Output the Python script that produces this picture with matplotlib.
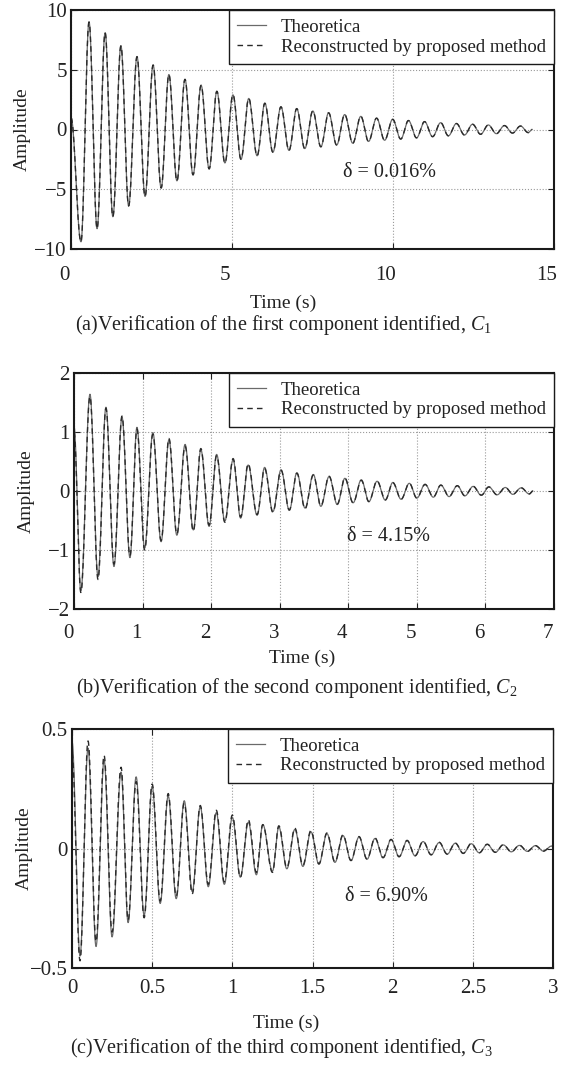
import numpy as np
import matplotlib
matplotlib.use("Agg")
import matplotlib.pyplot as plt
from matplotlib.transforms import ScaledTranslation

plt.rcParams['font.family'] = ['Liberation Serif', 'DejaVu Serif']
plt.rcParams['mathtext.fontset'] = 'custom'
plt.rcParams['mathtext.rm'] = 'Liberation Serif'
plt.rcParams['mathtext.it'] = 'Liberation Serif:italic'

# extrema of each component (time in s, amplitude)
c1_t = [0.00, 0.31, 0.56, 0.81, 1.06, 1.30, 1.55, 1.79, 2.05, 2.30, 2.55, 2.80, 3.04, 3.29, 3.54,
        3.79, 4.04, 4.29, 4.53, 4.78, 5.03, 5.28, 5.52, 5.78, 6.02, 6.27, 6.52, 6.77, 7.01, 7.26,
        7.51, 7.76, 8.00, 8.25, 8.50, 8.75, 9.00, 9.24, 9.49, 9.74, 9.99, 10.24, 10.48, 10.73,
        10.98, 11.23, 11.48, 11.72, 11.97, 12.22, 12.47, 12.72, 12.96, 13.21, 13.46, 13.71,
        13.96, 14.20, 14.32]
c1_theo = [1.0, -9.4, 9.0, -8.3, 8.1, -7.3, 7.0, -6.4, 6.1, -5.6, 5.4, -4.9, 4.6, -4.3, 4.2,
           -3.8, 3.7, -3.3, 3.2, -2.8, 2.9, -2.5, 2.6, -2.2, 2.2, -1.9, 1.9, -1.75, 1.75, -1.6,
           1.55, -1.45, 1.4, -1.3, 1.25, -1.15, 1.1, -1.0, 0.95, -0.9, 0.85, -0.8, 0.75, -0.7,
           0.66, -0.6, 0.57, -0.53, 0.5, -0.46, 0.44, -0.4, 0.38, -0.35, 0.33, -0.3,
           0.29, -0.26, 0.0]
c1_rec = list(c1_theo)

c2_t = [0.00, 0.10, 0.233, 0.35, 0.466, 0.583, 0.70, 0.816, 0.918, 1.03, 1.15, 1.27, 1.385,
        1.50, 1.62, 1.74, 1.85, 1.97, 2.08, 2.20, 2.32, 2.43, 2.54, 2.67, 2.78, 2.90, 3.02,
        3.14, 3.25, 3.37, 3.49, 3.60, 3.72, 3.84, 3.95, 4.07, 4.19, 4.30, 4.42, 4.54, 4.65,
        4.77, 4.89, 5.00, 5.12, 5.24, 5.35, 5.47, 5.59, 5.70, 5.82, 5.94, 6.05, 6.17, 6.29,
        6.40, 6.52, 6.64, 6.69]
c2_theo = [1.1, -1.69, 1.64, -1.45, 1.42, -1.28, 1.25, -1.13, 1.08, -0.97, 0.99, -0.86, 0.87,
           -0.75, 0.79, -0.66, 0.70, -0.60, 0.62, -0.51, 0.53, -0.46, 0.44, -0.41, 0.40, -0.35,
           0.36, -0.33, 0.31, -0.29, 0.28, -0.26, 0.245, -0.23, 0.215, -0.20, 0.19, -0.18,
           0.165, -0.155, 0.145, -0.14, 0.13, -0.12, 0.115, -0.105, 0.10, -0.095, 0.09,
           -0.083, 0.078, -0.073, 0.069, -0.065, 0.06, -0.057, 0.053, -0.05, 0.0]
c2_rec = [1.0, -1.72, 1.60, -1.50, 1.40, -1.24, 1.27, -1.10, 1.05, -1.00, 0.96, -0.84, 0.89,
          -0.73, 0.76, -0.68, 0.72, -0.58, 0.60, -0.53, 0.55, -0.44, 0.46, -0.40, 0.38, -0.36,
          0.35, -0.32, 0.30, -0.30, 0.27, -0.25, 0.25, -0.22, 0.22, -0.20, 0.18, -0.18,
          0.17, -0.15, 0.14, -0.14, 0.13, -0.12, 0.11, -0.10, 0.10, -0.09, 0.09,
          -0.08, 0.08, -0.07, 0.07, -0.065, 0.06, -0.055, 0.055, -0.05, 0.0]

c3_t = [0.00, 0.05, 0.10, 0.15, 0.20, 0.25, 0.306, 0.35, 0.40, 0.45, 0.50, 0.55, 0.60, 0.65,
        0.70, 0.75, 0.80, 0.85, 0.90, 0.95, 1.00, 1.05, 1.10, 1.15, 1.19, 1.25, 1.29, 1.34,
        1.39, 1.44, 1.49, 1.54, 1.59, 1.64, 1.69, 1.74, 1.79, 1.84, 1.89, 1.94, 1.99, 2.04,
        2.09, 2.14, 2.19, 2.24, 2.29, 2.34, 2.39, 2.44, 2.49, 2.54, 2.59, 2.64, 2.69, 2.74,
        2.79, 2.84, 2.89, 2.94, 2.99]
c3_theo = [0.45, -0.45, 0.42, -0.41, 0.37, -0.37, 0.32, -0.31, 0.30, -0.28, 0.26, -0.23, 0.22,
           -0.21, 0.20, -0.18, 0.175, -0.16, 0.15, -0.15, 0.13, -0.12, 0.11, -0.11, 0.10,
           -0.095, 0.09, -0.085, 0.08, -0.075, 0.07, -0.066, 0.062, -0.058, 0.054, -0.051,
           0.048, -0.045, 0.042, -0.039, 0.037, -0.035, 0.033, -0.031, 0.029, -0.027, 0.025,
           -0.024, 0.022, -0.021, 0.02, -0.018, 0.017, -0.016, 0.015, -0.014, 0.013, -0.012,
           0.012, -0.011, 0.01]
c3_rec = [0.40, -0.47, 0.45, -0.39, 0.39, -0.35, 0.34, -0.30, 0.28, -0.29, 0.27, -0.22, 0.23,
          -0.20, 0.19, -0.19, 0.18, -0.15, 0.16, -0.14, 0.14, -0.12, 0.12, -0.10, 0.10,
          -0.10, 0.095, -0.08, 0.085, -0.07, 0.075, -0.064, 0.065, -0.056, 0.057, -0.05,
          0.05, -0.044, 0.044, -0.038, 0.038, -0.034, 0.034, -0.03, 0.03, -0.026, 0.026,
          -0.023, 0.023, -0.02, 0.021, -0.018, 0.018, -0.016, 0.016, -0.014, 0.014, -0.012,
          0.012, -0.011, 0.01]

errors = ['\u03b4 = 0.016%', '\u03b4 = 4.15%', '\u03b4 = 6.90%']
captions = ['(a)Verification of the first component identified, $C_1$',
            '(b)Verification of the second component identified, $C_2$',
            '(c)Verification of the third component identified, $C_3$']
xticks = [[0, 5, 10, 15], [0, 1, 2, 3, 4, 5, 6, 7], [0, 0.5, 1, 1.5, 2, 2.5, 3]]
yticks = [[-10, -5, 0, 5, 10], [-2, -1, 0, 1, 2], [-0.5, 0, 0.5]]


def smooth(t, y, n=20):
    # join successive extrema with half-cosine arcs
    xs, ys = [], []
    for i in range(len(t) - 1):
        s = np.linspace(0, 1, n, endpoint=False)
        xs.append(t[i] + (t[i + 1] - t[i]) * s)
        ys.append(y[i] + (y[i + 1] - y[i]) * (1 - np.cos(np.pi * s)) / 2)
    xs.append([t[-1]])
    ys.append([y[-1]])
    return np.concatenate(xs), np.concatenate(ys)


W, H = 562, 1065
fig = plt.figure(figsize=(W / 100, H / 100), dpi=100)

# axes boxes in pixels: left, top, right, bottom
boxes = [(71, 10, 554, 249), (74, 373, 554, 609), (72, 729, 553, 968)]
series = [(c1_t, c1_theo, c1_rec), (c2_t, c2_theo, c2_rec), (c3_t, c3_theo, c3_rec)]
err_pos = [(9.9, -3.6), (4.58, -0.77), (1.96, -0.2)]
xpads = [12, 11, 8]
xshift = [-7, -6, 0]
xlab_pos = [(0.439, -0.226), (0.475, -0.208), (0.445, -0.230)]
cap_pos = [(283, 325), (297, 688), (281, 1048)]

for k in range(3):
    l, t, r, b = boxes[k]
    ax = fig.add_axes([l / W, 1 - b / H, (r - l) / W, (b - t) / H])
    tt, yth, yrc = series[k]
    x1, y1 = smooth(tt, yth)
    x2, y2 = smooth(tt, yrc)
    ax.plot(x1, y1, color='#6a6a6a', lw=0.9, label='Theoretica')
    ax.plot(x2, y2, color='#2a2a2a', lw=1.0, dashes=(4, 3),
            label='Reconstructed by proposed method')

    ax.set_xlim(xticks[k][0], xticks[k][-1])
    ax.set_ylim(yticks[k][0], yticks[k][-1])
    ax.set_xticks(xticks[k])
    ax.set_yticks(yticks[k])
    ax.set_xticklabels(['%g' % v for v in xticks[k]])
    ax.set_yticklabels([('%g' % v).replace('-', '\u2212') for v in yticks[k]])
    ax.grid(True, linestyle=':', color='#9a9a9a', lw=0.8)
    ax.tick_params(direction='in', top=True, right=True, length=4, width=0.8,
                   labelsize=15, colors='#222222')
    ax.tick_params(axis='x', pad=xpads[k])
    ax.tick_params(axis='y', pad=3)
    shift = ScaledTranslation(xshift[k] / 100, 0, fig.dpi_scale_trans)
    for lab in ax.get_xticklabels():
        lab.set_transform(lab.get_transform() + shift)
    for sp in ax.spines.values():
        sp.set_linewidth(1.5)
        sp.set_color('#1a1a1a')

    ax.set_ylabel('Amplitude', fontsize=14, color='#222222', va='center')
    ax.yaxis.set_label_coords(-0.100, 0.5)
    ax.set_xlabel('Time (s)', fontsize=14, color='#222222', va='center')
    ax.xaxis.set_label_coords(*xlab_pos[k])

    ax.text(err_pos[k][0], err_pos[k][1], errors[k], fontsize=14.5, color='#222222',
            ha='center', va='center')

    leg = ax.legend(loc='upper right', fontsize=13.5, borderaxespad=0, fancybox=False,
                    framealpha=1, edgecolor='#1a1a1a', handlelength=1.5,
                    handletextpad=0.8, labelspacing=0.15, borderpad=0.45)
    leg.get_frame().set_linewidth(1.0)
    for txt in leg.get_texts():
        txt.set_color('#222222')

    cx, cy = cap_pos[k]
    fig.text(cx / W, 1 - cy / H, captions[k], fontsize=14.5, color='#222222',
             ha='center', va='center')

fig.savefig('out.png', dpi=100)
